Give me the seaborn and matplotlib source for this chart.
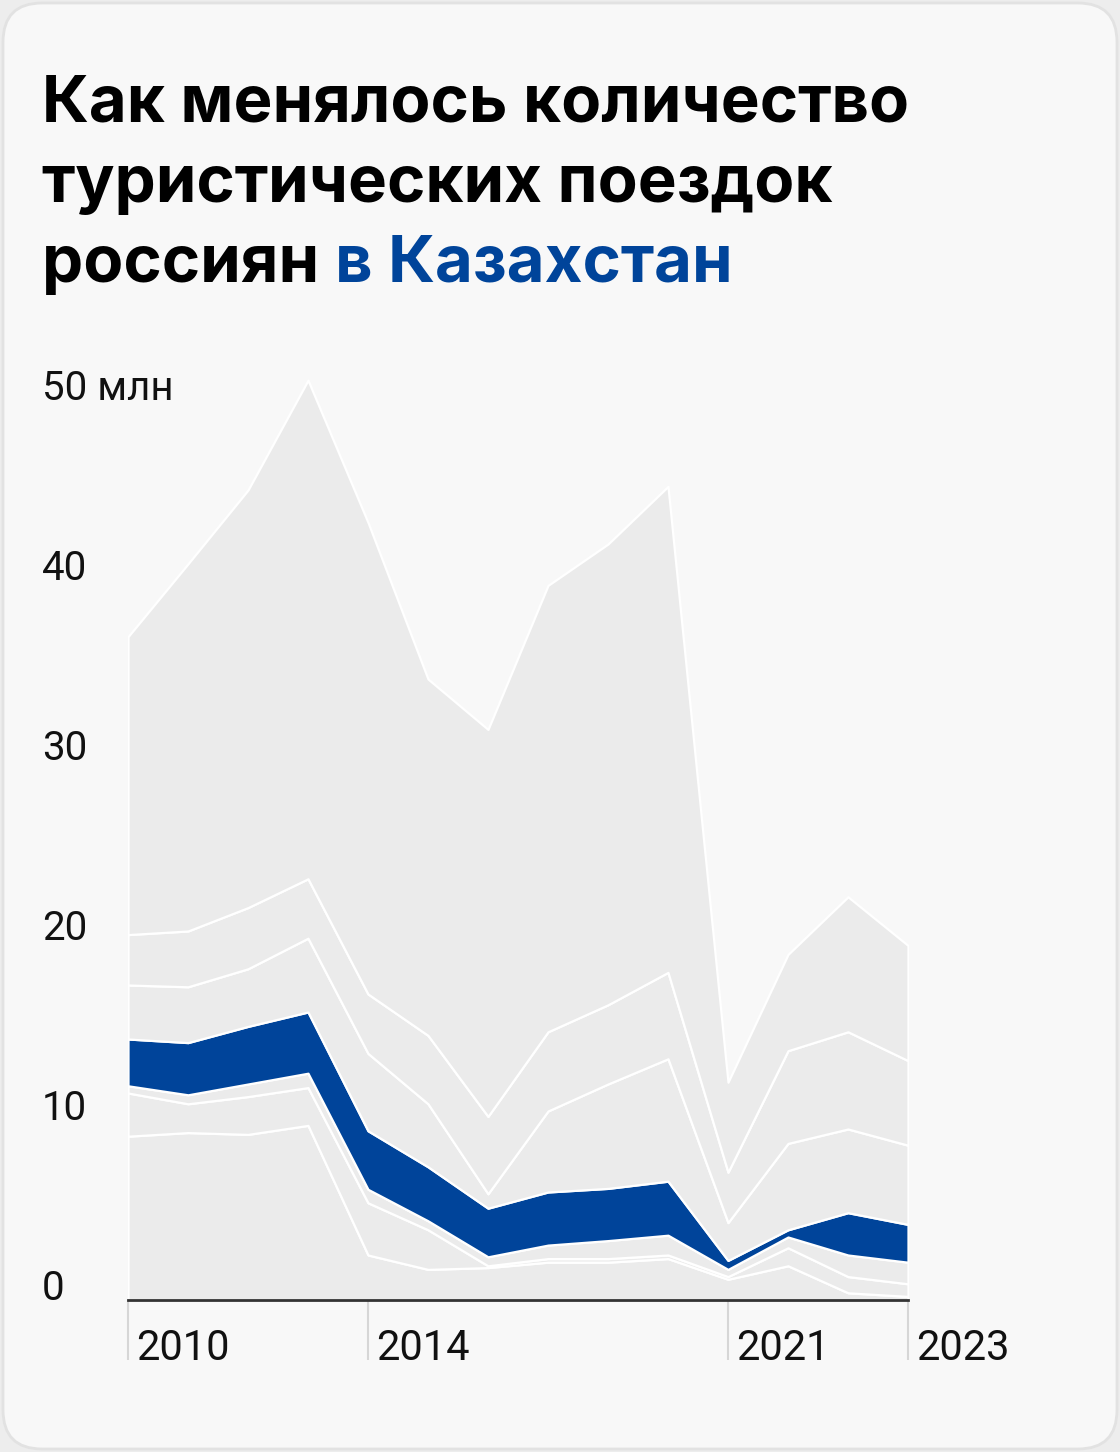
import matplotlib
matplotlib.use('Agg')
import matplotlib.pyplot as plt
import seaborn as sns
from matplotlib.patches import FancyBboxPatch
from matplotlib.transforms import ScaledTranslation

# x positions of the periods and the labelled ones
periods = list(range(14))
tick_positions = [0, 4, 10, 13]
tick_labels = ['2010', '2014', '2021', '2023']
y_ticks = [0, 10, 20, 30, 40, 50]
y_tick_labels = ['0', '10', '20', '30', '40', '50 млн']

# trips, mln, stacked from the bottom up
layer_1 = [9.1, 9.3, 9.2, 9.7, 2.5, 1.7, 1.8, 2.1, 2.1, 2.3, 1.15, 1.9, 0.4, 0.2]
layer_2 = [2.4, 1.6, 2.1, 2.1, 2.9, 2.2, 0.1, 0.2, 0.2, 0.2, 0.15, 1.0, 0.9, 0.7]
layer_3 = [0.4, 0.5, 0.7, 0.8, 0.75, 0.5, 0.5, 0.75, 1.0, 1.1, 0.4, 0.6, 1.2, 1.2]
kazakhstan = [2.6, 2.9, 3.2, 3.4, 3.25, 3.0, 2.7, 2.95, 2.9, 3.0, 0.5, 0.4, 2.35, 2.1]
layer_5 = [3.0, 3.1, 3.2, 4.1, 4.3, 3.5, 0.8, 4.5, 5.8, 6.8, 2.1, 4.8, 4.65, 4.4]
layer_6 = [2.8, 3.1, 3.4, 3.3, 3.3, 3.8, 4.3, 4.4, 4.4, 4.8, 2.8, 5.15, 5.4, 4.7]
layer_7 = [16.55, 20.4, 23.2, 27.7, 26.2, 19.8, 21.5, 24.8, 25.6, 27.0, 5.0, 5.35, 7.5, 6.4]

W, H = 1120, 1452
BG = '#f8f8f8'
GREY = '#ebebeb'
BLUE = '#00449a'

sns.set_theme(style='white')
plt.rcParams['font.family'] = ['Roboto', 'DejaVu Sans']

fig = plt.figure(figsize=(W / 100, H / 100), dpi=100)
fig.patch.set_facecolor('#ededed')
card = FancyBboxPatch((3 / W, 3 / H), 1 - 6 / W, 1 - 6 / H,
                      boxstyle='round,pad=0,rounding_size=0.035',
                      transform=fig.transFigure, facecolor=BG,
                      edgecolor='#e2e2e2', linewidth=2, mutation_aspect=W / H,
                      zorder=-10)
fig.add_artist(card)

ax = fig.add_axes([128 / W, 152 / H, 780 / W, 936 / H])
ax.set_facecolor('none')
ax.set_zorder(1)

layers = [layer_1, layer_2, layer_3, kazakhstan, layer_5, layer_6, layer_7]
colors = [GREY, GREY, GREY, BLUE, GREY, GREY, GREY]
ax.stackplot(periods, *layers, colors=colors, edgecolor='white', linewidth=1.6)

ax.set_xlim(0, 13)
ax.set_ylim(0, 52)
for s in ['top', 'right', 'left']:
    ax.spines[s].set_visible(False)
ax.spines['bottom'].set_color('#333333')
ax.spines['bottom'].set_linewidth(2)
ax.spines['bottom'].set_zorder(5)

ax.set_yticks(y_ticks)
ax.set_yticklabels(y_tick_labels, fontsize=29, color='#111111')
ax.tick_params(axis='y', left=False, length=0, pad=62)
for lab in ax.get_yticklabels():
    lab.set_horizontalalignment('left')
    lab.set_verticalalignment('baseline')

ax.set_xticks(tick_positions)
ax.set_xticklabels(tick_labels, fontsize=30, color='#111111')
ax.tick_params(axis='x', bottom=True, length=43, width=1.5, color='#d6d6d6',
               pad=0, direction='out')
for lab in ax.get_xticklabels():
    lab.set_horizontalalignment('left')
    lab.set_verticalalignment('baseline')
    lab.set_transform(lab.get_transform() + ScaledTranslation(8 / 100, 0, fig.dpi_scale_trans))

title_font = dict(fontsize=47, fontweight='bold', family=['Inter', 'DejaVu Sans'])
x0 = 42 / W
fig.text(x0, 1 - 122 / H, 'Как менялось количество', color='black', va='baseline', **title_font)
fig.text(x0, 1 - 202 / H, 'туристических поездок', color='black', va='baseline', **title_font)
t3 = fig.text(x0, 1 - 282 / H, 'россиян ', color='black', va='baseline', **title_font)
fig.canvas.draw()
bb = t3.get_window_extent()
fig.text(bb.x1 / W, 1 - 282 / H, 'в Казахстан', color=BLUE, va='baseline', **title_font)

fig.savefig('out.png', dpi=100, facecolor=fig.get_facecolor())
